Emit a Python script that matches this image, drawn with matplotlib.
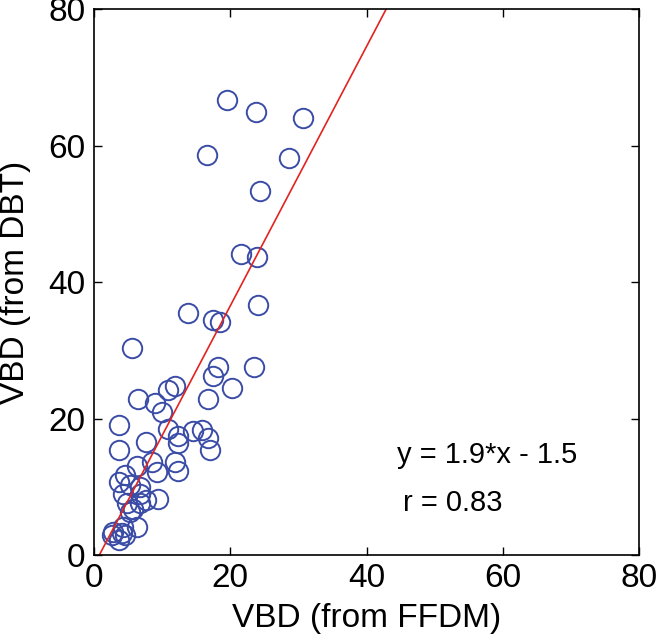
import numpy as np
import matplotlib.pyplot as plt

plt.rcParams['font.family'] = ['Liberation Sans', 'DejaVu Sans']

# VBD pairs
vbd_ffdm = [19.5, 23.8, 30.7, 16.6, 28.6, 24.4, 21.6, 24.0,
            24.1, 13.8, 17.4, 18.5, 5.6, 18.2, 17.4, 23.5, 20.2,
            11.9, 10.8, 6.4, 9.0, 16.7, 10.0, 3.6, 10.8, 15.9, 14.6,
            16.8, 12.4, 12.4, 7.6, 17.1, 3.7, 6.3, 8.5, 11.9, 12.4,
            9.2, 4.6, 3.6, 5.3, 6.8, 4.3, 6.8, 9.4, 7.7, 4.8, 5.8,
            6.8, 5.3, 6.3, 4.3, 2.8, 4.1, 3.6, 2.6, 4.6]
vbd_dbt = [66.7, 64.9, 64.1, 58.6, 58.2, 53.3, 44.1, 43.7,
           36.6, 35.5, 34.4, 34.2, 30.4, 27.6, 26.3, 27.6, 24.5,
           24.7, 24.2, 22.8, 22.3, 22.8, 21.0, 19.1, 18.4, 18.3, 18.1,
           17.2, 17.4, 16.4, 16.6, 15.4, 15.4, 13.0, 13.7, 13.7, 12.3,
           12.2, 11.7, 10.7, 10.2, 10.0, 9.0, 9.0, 8.2, 8.1, 7.6, 6.8,
           7.6, 6.3, 4.1, 4.1, 3.4, 3.2, 2.2, 2.9, 2.9]

slope = 1.9
intercept = -1.5
r_value = 0.83
ticks = [0, 20, 40, 60, 80]

fig = plt.figure(figsize=(6.59, 6.40), dpi=100)
ax = fig.add_axes([0.1426, 0.1328, 0.8271, 0.8531])

ax.plot(vbd_ffdm, vbd_dbt, 'o', markersize=14, markerfacecolor='none',
        markeredgecolor='#3a4ca6', markeredgewidth=1.4, linestyle='none')

xfit = np.array([(0 - intercept) / slope, (80 - intercept) / slope])
ax.plot(xfit, slope * xfit + intercept, color='#e3231f', linewidth=1.2)

ax.set_xlim(0, 80)
ax.set_ylim(0, 80)
ax.set_xticks(ticks)
ax.set_yticks(ticks)
ax.tick_params(direction='in', length=6, width=1, labelsize=24,
               top=True, right=True, pad=6)
for s in ax.spines.values():
    s.set_linewidth(1.2)

ax.set_xlabel('VBD (from FFDM)', fontsize=24)
ax.set_ylabel('VBD (from DBT)', fontsize=24)
ax.xaxis.set_label_coords(0.5, -0.088)
ax.yaxis.set_label_coords(-0.115, 0.5)

ax.text(44.5, 14.6, 'y = 1.9*x - 1.5', fontsize=21, va='center')
ax.text(45.3, 7.6, 'r = %.2f' % r_value, fontsize=21, va='center')

fig.savefig('out.png', dpi=100)
